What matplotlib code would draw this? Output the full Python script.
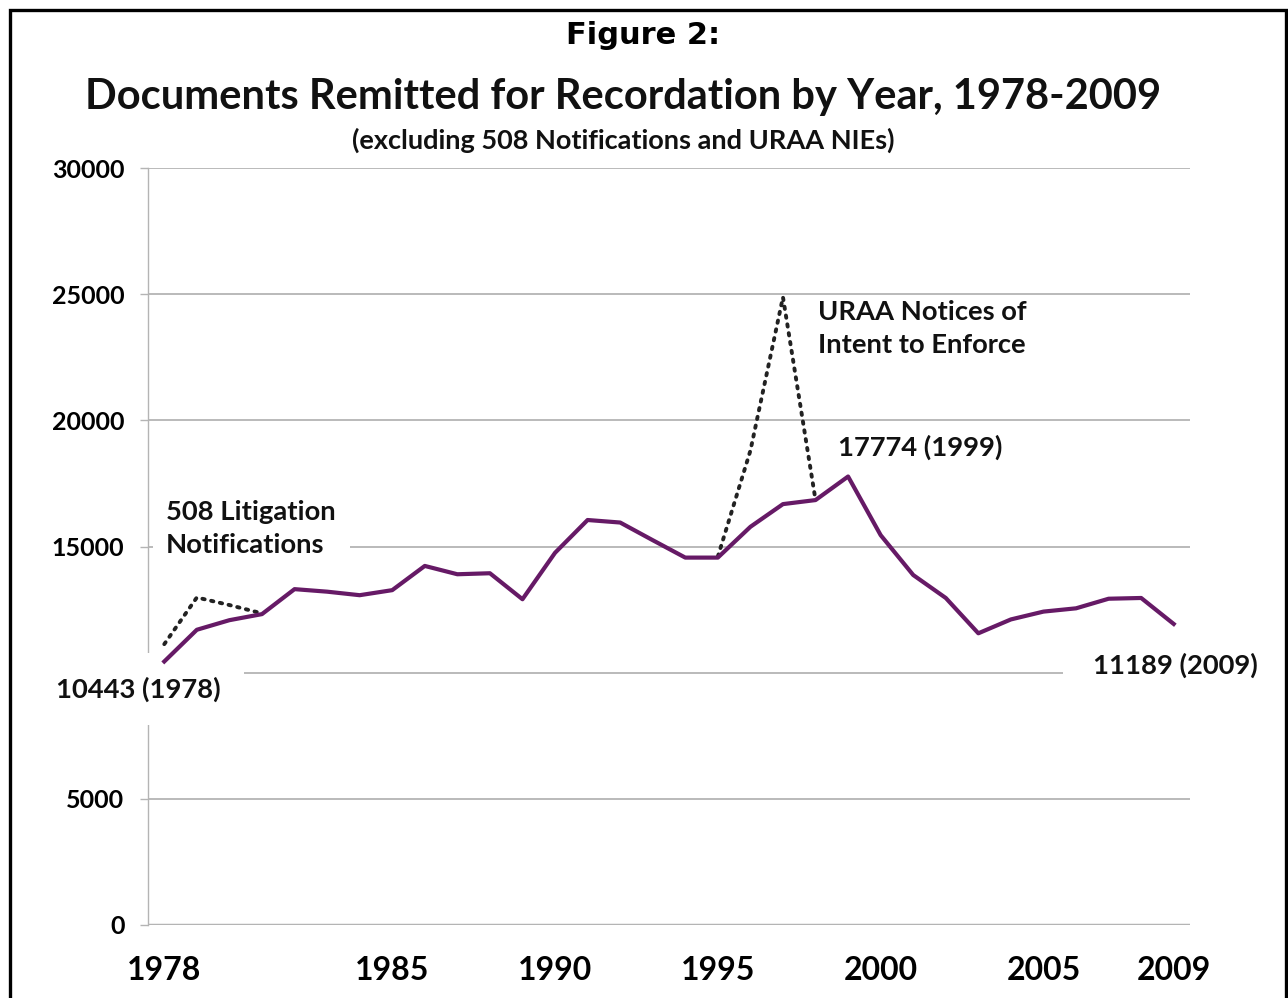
import matplotlib.pyplot as plt
from matplotlib.patches import Rectangle

plt.rcParams['font.family'] = ['Lato', 'DejaVu Sans']

years = list(range(1978, 2010))
documents = [10443, 11700, 12080, 12320, 13310, 13210, 13070, 13270, 14230, 13900,
             13940, 12910, 14750, 16050, 15950, 15250, 14560, 14560, 15780, 16680,
             16840, 17774, 15450, 13870, 12960, 11560, 12110, 12420, 12550, 12930,
             12960, 11930]

# dotted overlays: with 508 litigation notifications and URAA NIEs
lit_years = [1978, 1979, 1980, 1981]
lit_values = [11130, 12980, 12680, 12350]
uraa_years = [1995, 1996, 1997, 1998]
uraa_values = [14600, 18800, 24880, 16840]

xtick_years = [1978, 1985, 1990, 1995, 2000, 2005, 2009]
ytick_values = [0, 5000, 10000, 15000, 20000, 25000, 30000]
ytick_labels = ['0', '5000', '', '15000', '20000', '25000', '30000']

fig = plt.figure(figsize=(12.88, 9.98), dpi=100)
ax = fig.add_axes([148 / 1288, 1 - 925 / 998, (1190 - 148) / 1288, (925 - 168) / 998])

grid_col = '#b4b4b4'
ax.plot(years, documents, color='#661a66', lw=3, zorder=5, solid_joinstyle='round')
ax.plot(lit_years, lit_values, color='#222222', lw=2.8, ls=(0, (0.6, 1.7)),
        dash_capstyle='round', zorder=4)
ax.plot(uraa_years, uraa_values, color='#222222', lw=2.8, ls=(0, (0.6, 1.7)),
        dash_capstyle='round', zorder=4)

ax.set_xlim(1977.5, 2009.5)
ax.set_ylim(0, 30000)
ax.set_xticks(xtick_years)
ax.set_xticklabels([str(y) for y in xtick_years], fontsize=23, fontweight='bold')
ax.set_yticks(ytick_values)
ax.set_yticklabels(ytick_labels, fontsize=18, fontweight='bold')
ax.tick_params(axis='x', length=0, pad=22)
ax.tick_params(axis='y', length=6, width=1, color=grid_col, pad=11)

for v in ytick_values[1:]:
    ax.axhline(v, color=grid_col, lw=1.3, zorder=1)
for s in ['top', 'right', 'bottom']:
    ax.spines[s].set_visible(False)
ax.spines['left'].set_color(grid_col)
ax.spines['left'].set_linewidth(1)
ax.axhline(0, color=grid_col, lw=2.5, zorder=1)

ann = dict(fontsize=19.7, fontweight='bold', color='#111111', clip_on=False, zorder=3.5)
ax.text(1978.06, 15710, '508 Litigation\nNotifications', ha='left', va='center',
        linespacing=1.45, bbox=dict(facecolor='white', edgecolor='none',
                                    boxstyle='square,pad=0.5'), **ann)
ax.text(1998.09, 23633, 'URAA Notices of\nIntent to Enforce', ha='left', va='center',
        linespacing=1.45, **ann)
ax.text(1998.7, 18938, '17774 (1999)', ha='left', va='center', **ann)
ax.text(1974.69, 9350, '10443 (1978)', ha='left', va='center',
        bbox=dict(facecolor='white', edgecolor='none', boxstyle='square,pad=0.85'), **ann)
ax.text(2006.53, 10301, '11189 (2009)', ha='left', va='center',
        bbox=dict(facecolor='white', edgecolor='none', boxstyle='square,pad=1.1'), **ann)

fig.text(623 / 1288, 1 - 97 / 998, 'Documents Remitted for Recordation by Year, 1978-2009',
         ha='center', va='center', fontsize=30, fontweight='bold', color='#111111')
fig.text(623 / 1288, 1 - 140 / 998, '(excluding 508 Notifications and URAA NIEs)',
         ha='center', va='center', fontsize=19.5, fontweight='bold', color='#111111')
fig.text(643 / 1288, 1 - 35 / 998, 'Figure 2:', ha='center', va='center',
         fontsize=22, fontweight='bold', family='DejaVu Sans', color='black')

fig.patches.append(Rectangle((10 / 1288, -0.01), 1276 / 1288, 1 - 9.5 / 998 + 0.01,
                             transform=fig.transFigure, fill=False, edgecolor='black',
                             lw=2.4))

fig.savefig('out.png', dpi=100)
